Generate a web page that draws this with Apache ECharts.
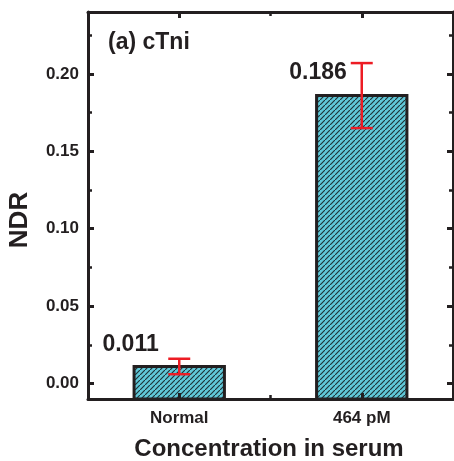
<!DOCTYPE html>
<html>
<head>
<meta charset="utf-8">
<script src="https://cdn.jsdelivr.net/npm/echarts@6/dist/echarts.min.js"></script>
<style>html,body{margin:0;padding:0;background:#fff}#c{width:454px;height:461px}</style>
</head>
<body>
<div id="c"></div>
<script>
const categories = ['Normal', '464 pM'];
const values = [0.011, 0.186];
const errors = [0.005, 0.021];
const majorTicks = [0, 0.05, 0.10, 0.15, 0.20];
const minorTicks = [0.025, 0.075, 0.125, 0.175, 0.225];
const yMin = -0.01, yMax = 0.24;

const FONT = 'Liberation Sans';
const INK = '#231f20';

// hatch pattern
const T = 5;
const tile = document.createElement('canvas');
tile.width = T; tile.height = T;
const g = tile.getContext('2d');
g.fillStyle = '#60c8d8';
g.fillRect(0, 0, T, T);
g.strokeStyle = '#1e3338';
g.lineWidth = 1.15;
g.beginPath();
g.moveTo(-1, T + 1); g.lineTo(T + 1, -1);
g.moveTo(-T - 1, 1); g.lineTo(1, -T - 1);
g.moveTo(T - 1, 2 * T + 1); g.lineTo(2 * T + 1, T - 1);
g.stroke();

const chart = echarts.init(document.getElementById('c'), null, {renderer: 'canvas'});

function catAxis(pos, centerTicks, show) {
  return {
    type: 'category', data: categories, position: pos, gridIndex: 0,
    boundaryGap: true, z: 10,
    axisLine: {show: show, onZero: false, lineStyle: {color: INK, width: 3}},
    axisTick: {show: true, inside: true, alignWithLabel: centerTicks,
      length: centerTicks ? 6 : 4, lineStyle: {color: INK, width: centerTicks ? 3 : 2.5}},
    axisLabel: {show: pos === 'bottom' && centerTicks, color: INK, fontFamily: FONT,
      fontWeight: 'bold', fontSize: 17, margin: 11},
    splitLine: {show: false}
  };
}
function valAxis(pos, ticks, isMajor, showLabel) {
  return {
    type: 'value', min: yMin, max: yMax, position: pos, gridIndex: 0, z: 10,
    axisLine: {show: isMajor, onZero: false, lineStyle: {color: INK, width: 3}},
    axisTick: {show: true, inside: true, customValues: ticks, length: isMajor ? 6 : 4,
      lineStyle: {color: INK, width: isMajor ? 3 : 2.5}},
    axisLabel: {show: showLabel, customValues: ticks, color: INK, fontFamily: FONT,
      fontWeight: 'bold', fontSize: 17, margin: 9, formatter: v => v.toFixed(2)},
    splitLine: {show: false}
  };
}

const labelDx = [-3.5, 1.5];
const labelDy = [-22, -23];

chart.setOption({
  animation: false,
  grid: {left: 88, top: 12, right: 1, bottom: 62, containLabel: false},
  xAxis: [catAxis('bottom', true, true), catAxis('bottom', false, false),
          catAxis('top', true, true), catAxis('top', false, false)],
  yAxis: [valAxis('left', majorTicks, true, true), valAxis('left', minorTicks, false, false),
          valAxis('right', majorTicks, true, false), valAxis('right', minorTicks, false, false)],
  graphic: [{
    type: 'text', left: 108, top: 31,
    style: {text: '(a) cTni', fill: INK, font: 'bold 23px "Liberation Sans"'}
  }, {
    type: 'text', x: 20, y: 220, rotation: Math.PI / 2,
    style: {text: 'NDR', fill: INK, font: 'bold 26px "Liberation Sans"',
      align: 'center', verticalAlign: 'middle'}
  }, {
    type: 'text', x: 269, y: 449,
    style: {text: 'Concentration in serum', fill: INK, font: 'bold 24px "Liberation Sans"',
      align: 'center', verticalAlign: 'middle'}
  }],
  series: [{
    type: 'custom', xAxisIndex: 0, yAxisIndex: 0,
    data: values.map((v, i) => [i, v]),
    renderItem: function (params, api) {
      const i = api.value(0);
      const top = api.coord([i, api.value(1)]);
      const base = api.coord([i, yMin]);
      const w = api.size([1, 0])[0] * 0.495;
      return {type: 'group', children: [
        {type: 'rect', shape: {x: top[0] - w / 2, y: top[1], width: w, height: base[1] - top[1]},
          style: {fill: {image: tile, repeat: 'repeat'}, stroke: INK, lineWidth: 3}},
        {type: 'text', x: top[0] - w / 2 + labelDx[i], y: top[1] + labelDy[i],
          style: {text: api.value(1).toFixed(3), fill: INK,
            font: 'bold 23px "Liberation Sans"', align: 'center', verticalAlign: 'middle'}}
      ]};
    },
    z: 2
  }, {
    type: 'custom', xAxisIndex: 0, yAxisIndex: 0,
    data: values.map((v, i) => [i, v - errors[i], v + errors[i]]),
    renderItem: function (params, api) {
      const lo = api.coord([api.value(0), api.value(1)]);
      const hi = api.coord([api.value(0), api.value(2)]);
      const hw = 11;
      const st = {stroke: '#ed1c24', lineWidth: 2.5};
      return {type: 'group', children: [
        {type: 'line', shape: {x1: hi[0], y1: hi[1], x2: lo[0], y2: lo[1]}, style: st},
        {type: 'line', shape: {x1: hi[0] - hw, y1: hi[1], x2: hi[0] + hw, y2: hi[1]}, style: st},
        {type: 'line', shape: {x1: lo[0] - hw, y1: lo[1], x2: lo[0] + hw, y2: lo[1]}, style: st}
      ]};
    },
    z: 5
  }]
});
</script>
</body>
</html>
